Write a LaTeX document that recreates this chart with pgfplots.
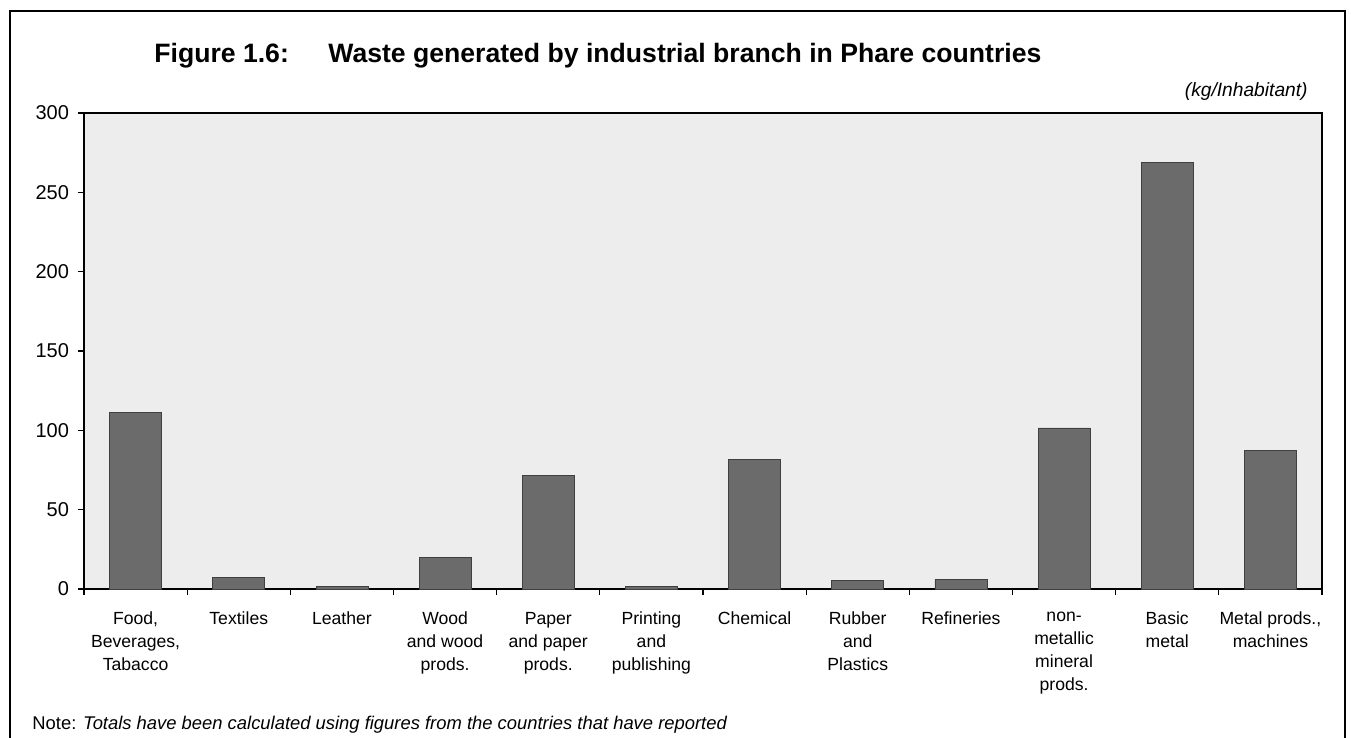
\documentclass[border=0pt]{standalone}
\usepackage{fontspec}
\setmainfont{Liberation Sans}
\usepackage{pgfplots}
\pgfplotsset{compat=1.18}

\begin{document}
\begin{tikzpicture}[x=1pt, y=1pt]
% page = 1351 x 738 px at 0.5pt per px, axis corner at px (84,589)
\useasboundingbox (-42,-74.5) rectangle (633.5,294.5);
\draw[line width=0.75pt] (-37,-80) -- (-37,289) -- (630.5,289) -- (630.5,-80);

\begin{axis}[
  at={(0pt,0pt)}, anchor=south west,
  scale only axis,
  width=619pt, height=238pt,
  xmin=-0.5, xmax=11.5,
  ymin=0, ymax=300,
  ytick={0,50,...,300},
  xtick={-0.5,0.5,...,11.5},
  xticklabels={},
  extra x ticks={0,1,...,11},
  extra x tick style={major tick length=0pt},
  extra x tick labels={
    {Food,\\Beverages,\\Tabacco},
    Textiles,
    Leather,
    {Wood\\and wood\\prods.},
    {Paper\\and paper\\prods.},
    {Printing\\and\\publishing},
    Chemical,
    {Rubber\\and\\Plastics},
    Refineries,
    {non-\\metallic\\mineral\\prods.},
    {Basic\\metal},
    {Metal prods.,\\machines}},
  tick pos=left,
  tick align=outside,
  major tick length=3pt,
  tick style={black, line width=0.6pt},
  axis line style={line width=0.8pt},
  axis background/.style={fill=black!7},
  /pgf/number format/assume math mode=true,
  y tick label style={font=\fontsize{10}{12}\selectfont, xshift=-1pt},
  x tick label style={font=\fontsize{8.8}{11.5}\selectfont, align=center, anchor=north, yshift=-8pt},
  clip=false,
]
  % kg per inhabitant
  \addplot[ybar, bar width=26pt, fill=black!58, draw=black!75, line width=0.3pt]
    coordinates {
      (0, 111.5)
      (1, 7.5)
      (2, 1.5)
      (3, 20)
      (4, 71.5)
      (5, 1.5)
      (6, 81.5)
      (7, 5.5)
      (8, 6)
      (9, 101.5)
      (10, 269)
      (11, 87.5)
    };
\end{axis}

% titles and notes
\node[anchor=base west, inner sep=0pt, font=\bfseries\fontsize{13.3}{15}\selectfont] at (35,263) {Figure 1.6:};
\node[anchor=base west, inner sep=0pt, font=\bfseries\fontsize{13.3}{15}\selectfont] at (122,263)
  {Waste generated by industrial branch in Phare countries};
\node[anchor=base east, inner sep=0pt, font=\itshape\fontsize{9.6}{11}\selectfont] at (612,246) {(kg/Inhabitant)};
\node[anchor=base west, inner sep=0pt, font=\fontsize{9.2}{11}\selectfont] at (-26,-70.5)
  {Note: \textit{Totals have been calculated using figures from the countries that have reported}};
\end{tikzpicture}
\end{document}
